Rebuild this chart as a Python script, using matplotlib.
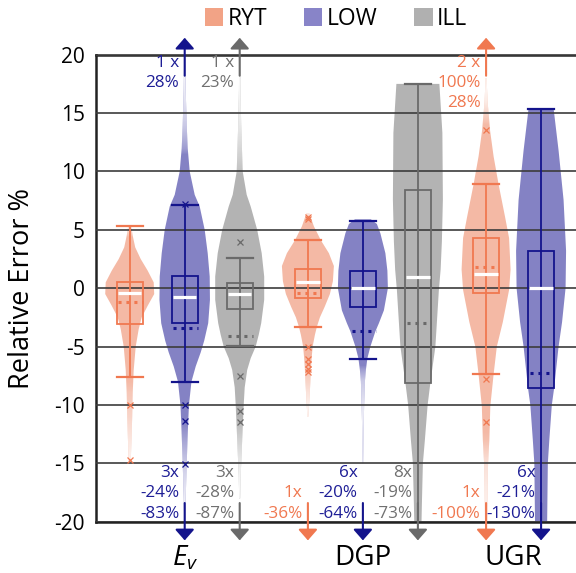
import numpy as np
import matplotlib
matplotlib.use("Agg")
import matplotlib.pyplot as plt
from matplotlib.patches import Polygon, Rectangle, Patch

plt.rcParams['font.family'] = ['Open Sans', 'DejaVu Sans']
plt.rcParams['axes.unicode_minus'] = False
plt.rcParams['mathtext.fontset'] = 'custom'
plt.rcParams['mathtext.it'] = 'Open Sans:italic'
plt.rcParams['mathtext.rm'] = 'Open Sans'

# ---- data ----
groups = ["$E_v$", "DGP", "UGR"]
methods = ["RYT", "LOW", "ILL"]
violin_group = [0, 0, 0, 1, 1, 1, 2, 2]
violin_method = [0, 1, 2, 0, 1, 2, 0, 1]

q1 = [-3.05, -3.0, -1.8, -0.86, -1.57, -8.13, -0.43, -8.56]
q3 = [0.57, 1.08, 0.43, 1.63, 1.5, 8.42, 4.28, 3.22]
median = [-0.43, -0.72, -0.49, 0.57, 0.05, 1.0, 1.22, 0.05]
mean = [-1.2, -3.42, -4.08, -0.43, -3.66, -2.94, 1.85, -7.28]
whisker_lo = [-7.6, -8.0, -4.94, -3.29, -6.05, -21.0, -7.37, -21.0]
whisker_hi = [5.3, 7.15, 2.57, 4.14, 5.76, 17.47, 8.9, 15.37]

outliers = [
    [-10.0, -14.75],
    [7.2, -10.0, -11.4, -15.07],
    [3.94, -7.5, -10.56, -11.5],
    [5.9, 6.1, -5.0, -6.1, -6.5, -6.9, -7.2],
    [],
    [],
    [13.55, -7.77, -11.42],
    [],
]

# violin outlines: levels (top to bottom) and relative half width (1 = widest)
violin_levels = [
    [5.3, 4.5, 3.5, 2.5, 1.5, 0.5, -0.5, -1.5, -2.5, -3.5, -5, -7, -9, -11, -13, -15],
    [20, 17, 14, 12, 10, 8, 7, 5, 3, 1, -1, -3, -4.5, -5.5, -6.7, -8, -10, -12, -15, -18, -20],
    [20, 17, 14, 12, 10, 8, 7, 5, 3, 1, -1, -3, -4, -5, -6, -7, -8.5, -10, -12, -14, -16, -18],
    [6.4, 5.3, 4.1, 3.0, 1.9, 0.6, -0.5, -1.6, -2.5, -3.3, -4, -5, -6, -7, -8, -9.5, -11],
    [5.9, 5.5, 4.7, 3.0, 1.5, 0, -1.9, -3, -3.7, -5, -6, -7, -8, -10, -12, -15],
    [17.5, 13.3, 7.6, 4, 1.6, -0.15, -5, -8.1, -10, -13, -15, -18.5, -20.5],
    [18, 16, 13.5, 11.3, 8.9, 6.1, 4.3, 1.6, -0.15, -2.9, -5, -7.4, -10.1, -13, -15, -17, -19, -20.5],
    [15.4, 11.8, 7.56, 3.2, 0, -2.9, -5, -8.6, -10, -13, -15, -18.7, -20.5],
]
violin_width = [
    [0.06, 0.12, 0.22, 0.44, 0.72, 0.96, 0.98, 0.72, 0.48, 0.36, 0.24, 0.16, 0.12, 0.1, 0.07, 0.04],
    [0.02, 0.04, 0.08, 0.12, 0.2, 0.4, 0.6, 0.8, 0.92, 1.0, 1.01, 0.94, 0.78, 0.64, 0.44, 0.27, 0.17, 0.13, 0.08, 0.04, 0.02],
    [0.02, 0.03, 0.06, 0.09, 0.12, 0.28, 0.44, 0.7, 0.88, 0.98, 0.98, 0.86, 0.76, 0.64, 0.44, 0.3, 0.2, 0.16, 0.12, 0.08, 0.04, 0.02],
    [0.06, 0.24, 0.52, 0.84, 1.04, 1.0, 0.88, 0.67, 0.48, 0.36, 0.28, 0.19, 0.15, 0.12, 0.1, 0.06, 0.02],
    [0.32, 0.56, 0.7, 0.9, 0.98, 1.0, 0.84, 0.64, 0.5, 0.3, 0.18, 0.12, 0.08, 0.05, 0.03, 0.01],
    [0.86, 0.98, 1.0, 0.96, 0.91, 0.84, 0.7, 0.5, 0.39, 0.28, 0.2, 0.16, 0.14],
    [0.02, 0.06, 0.16, 0.3, 0.5, 0.76, 0.92, 0.98, 0.92, 0.67, 0.43, 0.3, 0.17, 0.13, 0.08, 0.06, 0.05, 0.04],
    [0.5, 0.7, 0.9, 1.0, 0.98, 0.84, 0.7, 0.52, 0.43, 0.33, 0.27, 0.25, 0.24],
]

# counts / values beyond the plotted range
top_notes = [[], ["1 x", "28%"], ["1 x", "23%"], [], [], [], ["2 x", "100%", "28%"], []]
bottom_notes = [[], ["3x", "-24%", "-83%"], ["3x", "-28%", "-87%"], ["1x", "-36%"],
                ["6x", "-20%", "-64%"], ["8x", "-19%", "-73%"], ["1x", "-100%"],
                ["6x", "-21%", "-130%"]]

# ---- style ----
fill_colors = ["#F4B9A5", "#8482C4", "#B3B3B3"]
legend_colors = ["#F2A386", "#8884C8", "#B0B0B0"]
line_colors = ["#F07850", "#14148C", "#6A6A6A"]
text_colors = ["#F07850", "#1E1E96", "#707070"]
group_gap = 3.24
violin_half = 0.4545
box_half = 0.236
median_half = 0.213

positions = [violin_group[i] * group_gap + (violin_method[i]) for i in range(8)]

fig = plt.figure(figsize=(5.76, 5.73), dpi=100)
ax = fig.add_axes([96 / 576, 51.3 / 573, 480 / 576, 467 / 573])

for i in range(8):
    m = violin_method[i]
    p = positions[i]
    lv = np.array(violin_levels[i], dtype=float)
    wd = np.array(violin_width[i], dtype=float) * violin_half
    verts = list(zip(p - wd, lv)) + list(zip(p + wd, lv))[::-1]
    poly = Polygon(verts, closed=True, facecolor=fill_colors[m], edgecolor='none', zorder=1)
    ax.add_patch(poly)

    # fade the thin tails
    yy = np.linspace(lv.min(), lv.max(), 500)
    ww = np.interp(yy, lv[::-1], wd[::-1]) * 55
    a = np.clip(ww / 3.5, 0, 1) ** 1.5
    img = np.ones((len(yy), 1, 4))
    img[:, 0, 3] = 1 - a
    im = ax.imshow(img, extent=[p - violin_half, p + violin_half, yy[0], yy[-1]],
                   origin='lower', aspect='auto', interpolation='bilinear', zorder=1.1)
    im.set_clip_path(poly)

    c = line_colors[m]
    ax.plot([p, p], [whisker_lo[i], whisker_hi[i]], color=c, lw=1.3, zorder=3)
    for w in (whisker_lo[i], whisker_hi[i]):
        ax.plot([p - box_half, p + box_half], [w, w], color=c, lw=1.6, zorder=3)
    ax.add_patch(Rectangle((p - box_half, q1[i]), 2 * box_half, q3[i] - q1[i],
                           facecolor='none', edgecolor=c, lw=1.3, zorder=3))
    ax.plot([p - median_half, p + median_half], [median[i], median[i]],
            color='white', lw=2.3, solid_capstyle='butt', zorder=4)
    ax.plot([p - box_half + 0.03, p + box_half], [mean[i], mean[i]], color=c, lw=2.2,
            linestyle=(0, (1, 1.6)), dash_capstyle='butt', zorder=4)
    if outliers[i]:
        ax.plot([p] * len(outliers[i]), outliers[i], linestyle='none', marker='x',
                ms=4.5, mew=0.9, color=c, zorder=4)

    ah = dict(arrowstyle='-|>,head_length=0.33,head_width=0.29', color=c, lw=1.5,
              shrinkA=0, shrinkB=0, mutation_scale=20, clip_on=False)
    if top_notes[i]:
        ax.annotate('', xy=(p, 21.45), xytext=(p, 18.2), arrowprops=ah,
                    annotation_clip=False, zorder=5)
        for k, s in enumerate(top_notes[i]):
            ax.text(p - 0.1, 19.3 - k * 1.72, s, ha='right', va='center',
                    fontsize=12.3, color=text_colors[m], zorder=6)
    if bottom_notes[i]:
        ax.annotate('', xy=(p, -21.6), xytext=(p, -18.4), arrowprops=ah,
                    annotation_clip=False, zorder=5)
        n = len(bottom_notes[i])
        for k, s in enumerate(bottom_notes[i]):
            ax.text(p - 0.1, -19.3 + (n - 1 - k) * 1.75, s, ha='right', va='center',
                    fontsize=12.3, color=text_colors[m], zorder=6)

ax.set_xlim(-0.613, 8.115)
ax.set_ylim(-20, 20)
ax.set_yticks(np.arange(-20, 21, 5))
ax.yaxis.grid(True, color='#3c3c3c', lw=1.2)
ax.set_axisbelow(False)
ax.tick_params(axis='y', length=0, pad=8, labelsize=15)

centers = [np.mean([positions[i] for i in range(8) if violin_group[i] == g]) for g in range(3)]
ax.set_xticks(centers)
ax.set_xticklabels(groups)
ax.tick_params(axis='x', length=0, pad=16, labelsize=20)

ax.set_ylabel("Relative Error %", fontsize=19.5, labelpad=13)
for side in ("left", "top", "bottom"):
    ax.spines[side].set_linewidth(1.8)
    ax.spines[side].set_color('#222222')
ax.spines["right"].set_visible(False)

handles = [Patch(facecolor=legend_colors[k], edgecolor='none') for k in range(3)]
fig.legend(handles, methods, loc='center', bbox_to_anchor=(336 / 576, 1 - 19 / 573),
           ncol=3, frameon=False, fontsize=16.5, handlelength=0.8, handleheight=0.8,
           handletextpad=0.2, columnspacing=1.6, borderpad=0)

fig.savefig("out.png", dpi=100)
